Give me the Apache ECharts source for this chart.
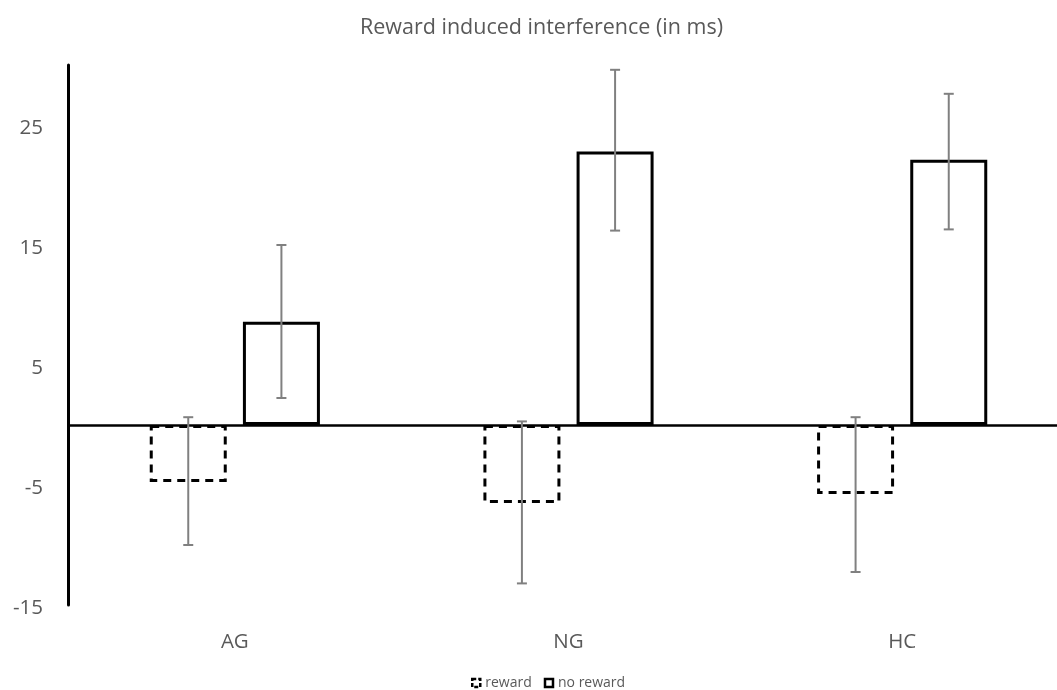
<!DOCTYPE html>
<html>
<head>
<meta charset="utf-8">
<script src="https://cdn.jsdelivr.net/npm/echarts@6/dist/echarts.min.js"></script>
<style>html,body{margin:0;padding:0;background:#fff;overflow:hidden}#c{width:1069px;height:690px}</style>
</head>
<body>
<div id="c"></div>
<script>
const categories = ['AG', 'NG', 'HC'];
const seriesNames = ['reward', 'no reward'];
const rewardValues = [-4.75, -6.5, -5.75];
const noRewardValues = [8.6, 22.8, 22.1];
const rewardErrLow = [-10.0, -13.2, -12.25];
const rewardErrHigh = [0.65, 0.3, 0.65];
const noRewardErrLow = [2.25, 16.2, 16.3];
const noRewardErrHigh = [15.0, 29.6, 27.6];
const yTicks = [-15, -5, 5, 15, 25];

const BAR_GAP = '21%';
const CAT_GAP = '49%';
const FONT = '"Open Sans", Lato, sans-serif';
const GRAY = '#595959';

function errSeries(idx, lows, highs) {
  return {
    type: 'custom',
    name: seriesNames[idx] + ' err',
    silent: true,
    z: 5,
    encode: { x: 0, y: [1, 2] },
    data: categories.map((c, i) => [i, lows[i], highs[i]]),
    renderItem: function (params, api) {
      const cat = api.value(0);
      const lo = api.coord([cat, api.value(1)]);
      const hi = api.coord([cat, api.value(2)]);
      const layout = api.barLayout({ count: 2, barGap: BAR_GAP, barCategoryGap: CAT_GAP });
      const x = lo[0] + layout[idx].offsetCenter;
      const cap = 5;
      const style = { stroke: '#808080', lineWidth: 2 };
      return {
        type: 'group',
        children: [
          { type: 'line', shape: { x1: x, y1: hi[1], x2: x, y2: lo[1] }, style: style },
          { type: 'line', shape: { x1: x - cap, y1: hi[1], x2: x + cap, y2: hi[1] }, style: style },
          { type: 'line', shape: { x1: x - cap, y1: lo[1], x2: x + cap, y2: lo[1] }, style: style }
        ]
      };
    }
  };
}

const chart = echarts.init(document.getElementById('c'), null, { renderer: 'canvas' });
chart.setOption({
  animation: false,
  backgroundColor: '#fff',
  title: {
    text: 'Reward induced interference (in ms)',
    left: 360,
    top: 17,
    padding: 0,
    textStyle: { color: GRAY, fontSize: 21.5, fontWeight: 'normal', fontFamily: FONT }
  },
  legend: {
    top: 676,
    left: 471,
    padding: 0,
    icon: 'rect',
    itemWidth: 8,
    itemHeight: 8,
    itemGap: 12,
    data: [
      { name: seriesNames[0], itemStyle: { borderWidth: 2.5, borderType: [4, 2] } },
      { name: seriesNames[1], itemStyle: { borderWidth: 2.5 } }
    ],
    textStyle: { color: GRAY, fontSize: 14, fontFamily: FONT }
  },
  grid: { left: 68, right: 0, top: 65, bottom: 85, containLabel: false },
  xAxis: {
    type: 'category',
    data: categories,
    axisLine: { show: false, onZero: false },
    axisTick: { show: false },
    axisLabel: { color: GRAY, fontSize: 20.5, fontFamily: FONT, margin: 27 }
  },
  yAxis: {
    type: 'value',
    min: -15,
    max: 30,
    interval: 10,
    splitLine: { show: false },
    axisTick: { show: false },
    axisLine: { show: true, lineStyle: { color: '#000', width: 3 } },
    axisLabel: {
      color: GRAY, fontSize: 20.5, fontFamily: FONT, margin: 25,
      verticalAlign: 'top', lineHeight: 6,
      formatter: v => (yTicks.indexOf(v) >= 0 ? String(v) : '')
    }
  },
  series: [
    {
      type: 'bar',
      name: seriesNames[0],
      data: rewardValues,
      barGap: BAR_GAP,
      barCategoryGap: CAT_GAP,
      itemStyle: { color: '#fff', borderColor: '#000', borderWidth: 3, borderType: [8, 6] },
      markLine: {
        silent: true,
        symbol: 'none',
        label: { show: false },
        lineStyle: { color: '#000', width: 2.5, type: 'solid' },
        data: [{ yAxis: 0 }]
      },
      z: 3
    },
    {
      type: 'bar',
      name: seriesNames[1],
      data: noRewardValues,
      barGap: BAR_GAP,
      barCategoryGap: CAT_GAP,
      itemStyle: { color: '#fff', borderColor: '#000', borderWidth: 3 },
      z: 3
    },
    errSeries(0, rewardErrLow, rewardErrHigh),
    errSeries(1, noRewardErrLow, noRewardErrHigh)
  ]
});
</script>
</body>
</html>
